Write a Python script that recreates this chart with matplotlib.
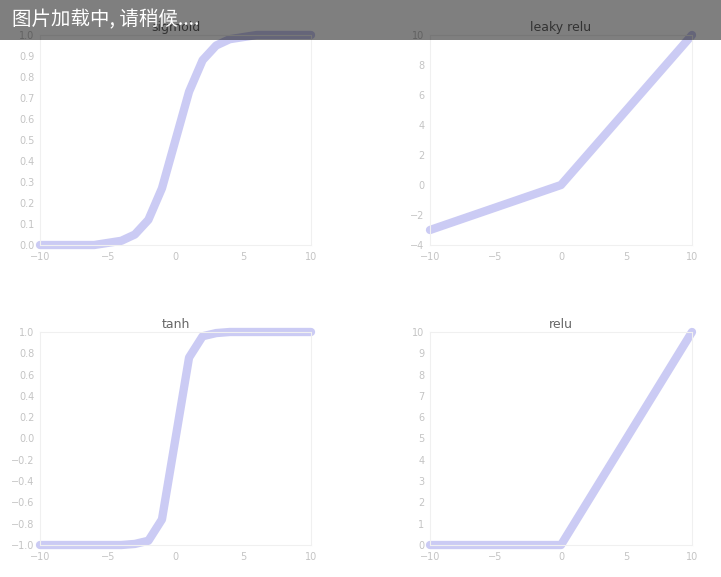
import matplotlib
matplotlib.use('Agg')
import matplotlib.pyplot as plt
from matplotlib.patches import Rectangle
from matplotlib.ticker import MultipleLocator, MaxNLocator

# values, one point per integer x
x = [-10, -9, -8, -7, -6, -5, -4, -3, -2, -1, 0, 1, 2, 3, 4, 5, 6, 7, 8, 9, 10]
y_sigmoid = [0.00, 0.00, 0.00, 0.00, 0.00, 0.01, 0.02, 0.05, 0.12, 0.27, 0.50,
             0.73, 0.88, 0.95, 0.98, 0.99, 1.00, 1.00, 1.00, 1.00, 1.00]
y_leaky = [-3.0, -2.7, -2.4, -2.1, -1.8, -1.5, -1.2, -0.9, -0.6, -0.3, 0.0,
           1, 2, 3, 4, 5, 6, 7, 8, 9, 10]
y_tanh = [-1.00, -1.00, -1.00, -1.00, -1.00, -1.00, -1.00, -0.99, -0.96, -0.76, 0.00,
          0.76, 0.96, 0.99, 1.00, 1.00, 1.00, 1.00, 1.00, 1.00, 1.00]
y_relu = [0, 0, 0, 0, 0, 0, 0, 0, 0, 0, 0, 1, 2, 3, 4, 5, 6, 7, 8, 9, 10]
titles = ['sigmoid', 'leaky relu', 'tanh', 'relu']
banner_text = '图片加载中, 请稍候....'

plt.rcParams['axes.autolimit_mode'] = 'round_numbers'
plt.rcParams['axes.xmargin'] = 0
plt.rcParams['axes.ymargin'] = 0

W, H = 721, 577
fig = plt.figure(figsize=(W / 100, H / 100), dpi=100)

# axes boxes in pixels: left, top, right, bottom
boxes = [(40, 35, 311, 245), (430, 35, 692, 245),
         (40, 332, 311, 545), (430, 332, 692, 545)]
series = [y_sigmoid, y_leaky, y_tanh, y_relu]

for (l, t, r, b), ys, name in zip(boxes, series, titles):
    ax = fig.add_axes([l / W, 1 - b / H, (r - l) / W, (b - t) / H])
    ax.yaxis.set_major_locator(MaxNLocator(nbins=10, steps=[1, 2, 5, 10]))
    ax.xaxis.set_major_locator(MultipleLocator(5))
    ax.plot(x, ys, color='#cbcbf4', linewidth=6, clip_on=False,
            solid_capstyle='round', solid_joinstyle='round')
    ax.set_title(name, fontsize=9, color='#666666', pad=3)
    ax.tick_params(labelsize=7, colors='#c4c4c4', length=0)
    ax.tick_params(axis='x', pad=5)
    ax.tick_params(axis='y', pad=4)
    for s in ax.spines.values():
        s.set_color('#f0f0f0')

# grey loading banner on top
fig.patches.append(Rectangle((0, 1 - 40 / H), 1, 40 / H, transform=fig.transFigure,
                             facecolor='black', alpha=0.5, edgecolor='none', zorder=10))
fig.text(12 / W, 1 - 20 / H, banner_text, color='white', fontsize=14, va='center',
         family=['Noto Sans CJK SC', 'DejaVu Sans'], zorder=11)

fig.savefig('out.png', dpi=100)
